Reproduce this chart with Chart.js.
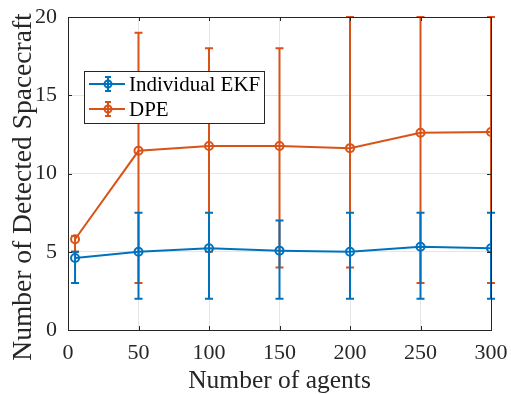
<!DOCTYPE html>
<html>
<head>
<meta charset="utf-8">
<script src="https://cdn.jsdelivr.net/npm/chart.js@4"></script>
<style>
  html, body { margin: 0; padding: 0; background: #fff; }
  #wrap { width: 511px; height: 394px; }
</style>
</head>
<body>
<div id="wrap"><canvas id="chart"></canvas></div>
<script>
// data
const agents = [5, 50, 100, 150, 200, 250, 300];
const ekfMean = [4.6, 5.0, 5.22, 5.07, 5.0, 5.32, 5.22];
const ekfLow = [3, 2, 2, 2, 2, 2, 2];
const ekfHigh = [5, 7.5, 7.5, 7, 7.5, 7.5, 7.5];
const dpeMean = [5.8, 11.45, 11.76, 11.76, 11.62, 12.6, 12.65];
const dpeLow = [5, 3, 5, 4, 4, 3, 3];
const dpeHigh = [6, 19, 18, 18, 20, 20, 20];
const xTicks = [0, 50, 100, 150, 200, 250, 300];
const yTicks = [0, 5, 10, 15, 20];

const BLUE = '#0072BD';
const ORANGE = '#D95319';
const FONT = "'Liberation Serif', 'Times New Roman', serif";
const Y_TITLE = 'Number of Detected Spacecraft';

const bars = [
    { low: ekfLow, high: ekfHigh },
    { low: dpeLow, high: dpeHigh }
];

// draws error bars for each dataset right after its line
const errorBars = {
    id: 'errorBars',
    afterDatasetDraw(chart, args) {
        const ctx = chart.ctx;
        const xs = chart.scales.x, ys = chart.scales.y;
        const ds = chart.data.datasets[args.index];
        const eb = bars[args.index];
        ctx.save();
        ctx.strokeStyle = ds.borderColor;
        ctx.lineWidth = 2;
        agents.forEach((a, i) => {
            const px = xs.getPixelForValue(a);
            const y1 = ys.getPixelForValue(eb.low[i]);
            const y2 = ys.getPixelForValue(eb.high[i]);
            ctx.beginPath();
            ctx.moveTo(px, y1); ctx.lineTo(px, y2);
            ctx.moveTo(px - 4, y1); ctx.lineTo(px + 4, y1);
            ctx.moveTo(px - 4, y2); ctx.lineTo(px + 4, y2);
            ctx.stroke();
        });
        ctx.restore();
    }
};

// axes box, inward ticks, y title and legend, MATLAB style
const boxAndLegend = {
    id: 'boxAndLegend',
    afterDraw(chart) {
        const ctx = chart.ctx;
        const a = chart.chartArea;
        const xs = chart.scales.x, ys = chart.scales.y;
        ctx.save();
        ctx.strokeStyle = '#262626';
        ctx.lineWidth = 1;
        ctx.strokeRect(a.left + 0.5, a.top + 0.5, a.right - a.left, a.bottom - a.top);
        ctx.beginPath();
        xTicks.forEach(t => {
            const px = Math.round(xs.getPixelForValue(t)) + 0.5;
            ctx.moveTo(px, a.bottom); ctx.lineTo(px, a.bottom - 4);
            ctx.moveTo(px, a.top); ctx.lineTo(px, a.top + 4);
        });
        yTicks.forEach(t => {
            const py = Math.round(ys.getPixelForValue(t)) + 0.5;
            ctx.moveTo(a.left, py); ctx.lineTo(a.left + 4, py);
            ctx.moveTo(a.right, py); ctx.lineTo(a.right - 4, py);
        });
        ctx.stroke();

        // y axis title
        ctx.save();
        ctx.translate(24, 187);
        ctx.rotate(-Math.PI / 2);
        ctx.fillStyle = '#262626';
        ctx.font = '27.5px ' + FONT;
        ctx.textAlign = 'center';
        ctx.textBaseline = 'middle';
        ctx.fillText(Y_TITLE, 0, 0);
        ctx.restore();

        // legend
        const lx = 84, ly = 71, lw = 180, lh = 52;
        ctx.fillStyle = '#fff';
        ctx.fillRect(lx, ly, lw, lh);
        ctx.strokeStyle = '#262626';
        ctx.strokeRect(lx + 0.5, ly + 0.5, lw, lh);
        const items = [
            { label: 'Individual EKF', color: BLUE, y: 84 },
            { label: 'DPE', color: ORANGE, y: 109 }
        ];
        items.forEach(it => {
            ctx.strokeStyle = it.color;
            ctx.lineWidth = 2;
            ctx.beginPath();
            ctx.moveTo(89, it.y); ctx.lineTo(125, it.y);
            ctx.moveTo(108, it.y - 7); ctx.lineTo(108, it.y + 7);
            ctx.moveTo(105, it.y - 7); ctx.lineTo(111, it.y - 7);
            ctx.moveTo(105, it.y + 7); ctx.lineTo(111, it.y + 7);
            ctx.stroke();
            ctx.beginPath();
            ctx.arc(108, it.y, 3.5, 0, Math.PI * 2);
            ctx.stroke();
            ctx.fillStyle = '#000';
            ctx.font = '21px ' + FONT;
            ctx.textAlign = 'left';
            ctx.textBaseline = 'middle';
            ctx.fillText(it.label, 129, it.y + 1);
        });
        ctx.restore();
    }
};

const ctx = document.getElementById('chart').getContext('2d');

new Chart(ctx, {
    type: 'line',
    data: {
        datasets: [{
            label: 'Individual EKF',
            data: agents.map((a, i) => ({ x: a, y: ekfMean[i] })),
            borderColor: BLUE,
            backgroundColor: 'rgba(0,0,0,0)',
            borderWidth: 2,
            pointRadius: 4,
            pointBorderWidth: 2,
            pointBorderColor: BLUE,
            pointBackgroundColor: 'rgba(0,0,0,0)',
            tension: 0
        }, {
            label: 'DPE',
            data: agents.map((a, i) => ({ x: a, y: dpeMean[i] })),
            borderColor: ORANGE,
            backgroundColor: 'rgba(0,0,0,0)',
            borderWidth: 2,
            pointRadius: 4,
            pointBorderWidth: 2,
            pointBorderColor: ORANGE,
            pointBackgroundColor: 'rgba(0,0,0,0)',
            tension: 0
        }]
    },
    options: {
        responsive: true,
        maintainAspectRatio: false,
        animation: false,
        events: [],
        layout: { padding: { top: 17, right: 20, left: 0, bottom: 0 } },
        plugins: {
            legend: { display: false },
            tooltip: { enabled: false }
        },
        scales: {
            x: {
                type: 'linear',
                min: 0,
                max: 300,
                afterBuildTicks: s => { s.ticks = xTicks.map(v => ({ value: v })); },
                afterFit: s => { s.height = 64; s.paddingLeft = 0; s.paddingRight = 0; },
                grid: { color: '#e6e6e6', drawTicks: false },
                border: { display: false },
                ticks: {
                    color: '#262626',
                    padding: 10,
                    maxRotation: 0,
                    font: { family: FONT, size: 22 }
                },
                title: {
                    display: true,
                    text: 'Number of agents',
                    color: '#262626',
                    padding: { top: 0, bottom: 0 },
                    font: { family: FONT, size: 25.5, lineHeight: 1.0 }
                }
            },
            y: {
                min: 0,
                max: 20,
                afterBuildTicks: s => { s.ticks = yTicks.map(v => ({ value: v })); },
                afterFit: s => { s.width = 68; s.paddingTop = 0; s.paddingBottom = 0; },
                grid: { color: '#e6e6e6', drawTicks: false },
                border: { display: false },
                ticks: {
                    color: '#262626',
                    padding: 11,
                    font: { family: FONT, size: 22 }
                }
            }
        }
    },
    plugins: [errorBars, boxAndLegend]
});
</script>
</body>
</html>
